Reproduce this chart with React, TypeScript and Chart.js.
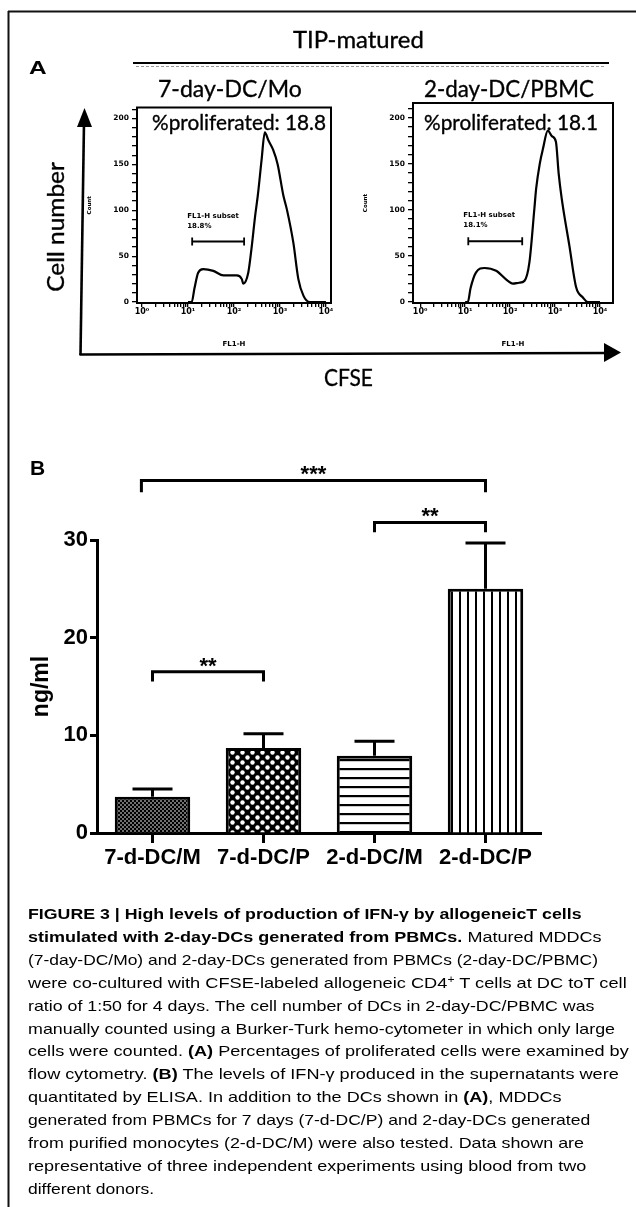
import React, { useEffect, useLayoutEffect, useRef } from "react";
import { Chart, registerables } from "chart.js";
Chart.register(...registerables);
Chart.defaults.font.family = "'Liberation Sans', Arial, sans-serif";

// ---------------- DATA ----------------
// Panel A: CFSE histograms (x = log10 FL1-H, y = count)
const hist1LogCFSE = [1.0, 1.08, 1.14, 1.22, 1.33, 1.55, 1.77, 2.06, 2.17, 2.2, 2.31, 2.38, 2.46, 2.52, 2.6, 2.67, 2.75, 2.85, 2.95, 3.07, 3.15, 3.29, 3.4, 3.51, 3.65, 4.0];
const hist1Count = [0, 0, 15, 32, 36, 34, 29, 29, 25, 20, 32, 58, 94, 117, 155, 185, 176, 166, 150, 117, 101, 65, 25, 7, 0, 0];
const hist2LogCFSE = [1.0, 1.06, 1.12, 1.24, 1.43, 1.69, 1.95, 2.06, 2.2, 2.32, 2.43, 2.54, 2.58, 2.66, 2.73, 2.84, 2.93, 3.02, 3.08, 3.15, 3.32, 3.47, 3.62, 3.73, 4.0];
const hist2Count = [0, 0, 15, 32, 37, 34, 23, 20, 21, 23, 43, 101, 123, 150, 166, 186, 180, 174, 140, 112, 61, 16, 5, 0, 0];
const histTitles = ["7-day-DC/Mo", "2-day-DC/PBMC"];
const proliferated = ["18.8", "18.1"];
const gateStart = [1.09, 1.07];
const gateEnd = [2.22, 2.27];
const gateLevel = [66, 66];
const gateLabel = ["18.8%", "18.1%"];
const histYLabels = [0, 50, 100, 150, 200];
const decadeLabels = ["10\u2070", "10\u00B9", "10\u00B2", "10\u00B3", "10\u2074"];

// Panel B: IFN-gamma ELISA
const barCategories = ["7-d-DC/M", "7-d-DC/P", "2-d-DC/M", "2-d-DC/P"];
const barMeans = [3.7, 8.7, 7.9, 25.0];
const barErrors = [0.8, 1.45, 1.5, 4.7];
const barYTicks = [0, 10, 20, 30];
const sigFrom = [-0.1, 2, 0];
const sigTo = [3, 3, 1];
const sigLevel = [36.1, 31.8, 16.5];
const sigDrop = [1.2, 1.0, 1.0];
const sigLabels = ["***", "**", "**"];

// Caption
const captionLines: { parts: [string, boolean][]; right: number }[] = [
  { parts: [["FIGURE 3 | High levels of production of IFN-\u03B3 by allogeneicT cells", true]], right: 582 },
  { parts: [["stimulated with 2-day-DCs generated from PBMCs.", true], [" Matured MDDCs", false]], right: 602 },
  { parts: [["(7-day-DC/Mo) and 2-day-DCs generated from PBMCs (2-day-DC/PBMC)", false]], right: 598 },
  { parts: [["were co-cultured with CFSE-labeled allogeneic CD4", false], ["+", false], [" T cells at DC toT cell", false]], right: 627 },
  { parts: [["ratio of 1:50 for 4 days. The cell number of DCs in 2-day-DC/PBMC was", false]], right: 594 },
  { parts: [["manually counted using a Burker-Turk hemo-cytometer in which only large", false]], right: 615 },
  { parts: [["cells were counted. ", false], ["(A)", true], [" Percentages of proliferated cells were examined by", false]], right: 629 },
  { parts: [["flow cytometry. ", false], ["(B)", true], [" The levels of IFN-\u03B3 produced in the supernatants were", false]], right: 619 },
  { parts: [["quantitated by ELISA. In addition to the DCs shown in ", false], ["(A)", true], [", MDDCs", false]], right: 562 },
  { parts: [["generated from PBMCs for 7 days (7-d-DC/P) and 2-day-DCs generated", false]], right: 590 },
  { parts: [["from purified monocytes (2-d-DC/M) were also tested. Data shown are", false]], right: 584 },
  { parts: [["representative of three independent experiments using blood from two", false]], right: 586 },
  { parts: [["different donors.", false]], right: 154 },
];

// ---------------- HELPERS ----------------
const logTicks: number[] = (() => {
  const t: number[] = [];
  for (let d = 0; d < 4; d++) for (let k = 1; k < 10; k++) t.push(d + Math.log10(k));
  t.push(4);
  return t;
})();

function Fit(props: {
  x: number; y: number; w: number; size: number; family: string; weight?: number | string;
  rot?: boolean; stroke?: number; children: React.ReactNode;
}) {
  const { x, y, w, size, family, weight = 400, rot, stroke = 0, children } = props;
  const inner = useRef<HTMLSpanElement>(null);
  useLayoutEffect(() => {
    const el = inner.current;
    if (!el) return;
    el.style.transform = "none";
    const nat = el.offsetWidth;
    if (nat > 0) el.style.transform = `scaleX(${w / nat})`;
  });
  const span = (
    <span
      ref={inner}
      style={{
        display: "inline-block", whiteSpace: "pre", transformOrigin: "0 0",
        fontFamily: family, fontSize: size, fontWeight: weight as any,
        lineHeight: `${size}px`, color: "#000",
        WebkitTextStroke: stroke ? `${stroke}px #000` : undefined,
      }}
    >
      {children}
    </span>
  );
  if (rot) {
    return (
      <div style={{
        position: "absolute", left: x - w / 2, top: y - size / 2, width: w, height: size,
        transform: "rotate(-90deg)", transformOrigin: "50% 50%", whiteSpace: "nowrap",
      }}>{span}</div>
    );
  }
  return <div style={{ position: "absolute", left: x, top: y, height: size, whiteSpace: "nowrap" }}>{span}</div>;
}

function ChartBox(props: { left: number; top: number; width: number; height: number; make: () => any }) {
  const ref = useRef<HTMLCanvasElement>(null);
  useEffect(() => {
    const chart = new Chart(ref.current!, props.make());
    return () => chart.destroy();
  }, []);
  return (
    <canvas ref={ref} width={props.width} height={props.height}
      style={{ position: "absolute", left: props.left, top: props.top, width: props.width, height: props.height }} />
  );
}

const boxPlugin = {
  id: "box",
  afterDraw(chart: any) {
    const { ctx, chartArea: a } = chart;
    ctx.save();
    ctx.strokeStyle = "#000";
    ctx.lineWidth = 2;
    ctx.strokeRect(a.left, a.top, a.right - a.left, a.bottom - a.top);
    ctx.restore();
  },
};

function gatePlugin(i: number) {
  return {
    id: "gate" + i,
    afterDatasetsDraw(chart: any) {
      const { ctx } = chart;
      const xs = chart.scales.x, ys = chart.scales.y;
      const x1 = xs.getPixelForValue(gateStart[i]);
      const x2 = xs.getPixelForValue(gateEnd[i]);
      const yy = ys.getPixelForValue(gateLevel[i]);
      ctx.save();
      ctx.strokeStyle = "#000";
      ctx.lineWidth = 1.8;
      ctx.beginPath();
      ctx.moveTo(x1, yy); ctx.lineTo(x2, yy);
      ctx.moveTo(x1, yy - 4); ctx.lineTo(x1, yy + 4);
      ctx.moveTo(x2, yy - 4); ctx.lineTo(x2, yy + 4);
      ctx.stroke();
      ctx.fillStyle = "#000";
      ctx.font = "bold 7px 'DejaVu Sans'";
      ctx.textAlign = "left";
      ctx.textBaseline = "alphabetic";
      ctx.fillText("FL1-H subset", x1 - 5, yy - 24);
      ctx.fillText(gateLabel[i], x1 - 5, yy - 14);
      ctx.restore();
    },
  };
}

function histConfig(xs: number[], ys: number[], i: number, o: {
  xmin: number; xmax: number; ymin: number; ymax: number; padTop: number; padRight: number;
}) {
  const tiny = { family: "'DejaVu Sans'", size: 7.5, weight: "bold" as const };
  return {
    type: "line",
    data: {
      datasets: [{
        data: xs.map((x, k) => ({ x, y: ys[k] })),
        borderColor: "#000", borderWidth: 2.2, pointRadius: 0, fill: false,
        cubicInterpolationMode: "monotone",
      }],
    },
    options: {
      animation: false, responsive: false, devicePixelRatio: 1,
      layout: { padding: { top: o.padTop, right: o.padRight, left: 0, bottom: 0 } },
      plugins: { legend: { display: false }, tooltip: { enabled: false } },
      scales: {
        x: {
          type: "linear", min: o.xmin, max: o.xmax,
          afterFit: (s: any) => { s.height = 57; },
          afterBuildTicks: (s: any) => { s.ticks = logTicks.map((v) => ({ value: v })); },
          ticks: {
            autoSkip: false, maxRotation: 0, color: "#000", padding: 0,
            font: { ...tiny, size: 8 },
            callback: (v: number) => {
              const r = Math.round(v);
              return Math.abs(v - r) < 1e-6 ? decadeLabels[r] : "";
            },
          },
          grid: { drawOnChartArea: false, tickLength: 4, color: "#000", lineWidth: 1.3 },
          border: { display: false },
          title: { display: true, text: "FL1-H", color: "#000", font: { ...tiny, size: 7 }, padding: { top: 0, bottom: 12 } },
        },
        y: {
          min: o.ymin, max: o.ymax,
          afterFit: (s: any) => { s.width = 57; },
          afterBuildTicks: (s: any) => {
            const t: any[] = [];
            for (let v = 0; v <= 210; v += 10) t.push({ value: v });
            s.ticks = t;
          },
          ticks: {
            autoSkip: false, color: "#000", padding: 3, font: tiny,
            callback: (v: number) => (histYLabels.includes(v) ? String(v) : ""),
          },
          grid: { drawOnChartArea: false, tickLength: 5, color: "#000", lineWidth: 1.3 },
          border: { display: false },
          title: { display: true, text: "Count", color: "#000", font: { ...tiny, size: 5.5 }, padding: { top: 6, bottom: 0 } },
        },
      },
    },
    plugins: [boxPlugin, gatePlugin(i)],
  };
}

function makePattern(kind: number): CanvasPattern | string {
  const c = document.createElement("canvas");
  if (kind === 0) { c.width = 4; c.height = 4; }
  else if (kind === 1) { c.width = 10; c.height = 10; }
  else if (kind === 2) { c.width = 9; c.height = 9; }
  else { c.width = 8; c.height = 8; }
  const g = c.getContext("2d")!;
  if (kind === 0) {
    g.fillStyle = "#000"; g.fillRect(0, 0, 4, 4);
    g.fillStyle = "#fff";
    g.beginPath(); g.arc(1, 1, 0.8, 0, Math.PI * 2); g.fill();
    g.beginPath(); g.arc(3, 3, 0.8, 0, Math.PI * 2); g.fill();
  } else if (kind === 1) {
    g.fillStyle = "#000"; g.fillRect(0, 0, 10, 10);
    g.fillStyle = "#fff";
    g.beginPath(); g.arc(2.5, 2.5, 2.2, 0, Math.PI * 2); g.fill();
    g.beginPath(); g.arc(7.5, 7.5, 2.2, 0, Math.PI * 2); g.fill();
  } else if (kind === 2) {
    g.fillStyle = "#fff"; g.fillRect(0, 0, 9, 9);
    g.fillStyle = "#000"; g.fillRect(0, 4, 9, 2.2);
  } else {
    g.fillStyle = "#fff"; g.fillRect(0, 0, 8, 8);
    g.fillStyle = "#000"; g.fillRect(3, 0, 2, 8);
  }
  const p = g.createPattern(c, "repeat");
  return p || "#888";
}

const errorBarPlugin = {
  id: "errbars",
  afterDatasetsDraw(chart: any) {
    const { ctx } = chart;
    const ys = chart.scales.y;
    const meta = chart.getDatasetMeta(0);
    ctx.save();
    ctx.strokeStyle = "#000";
    ctx.lineWidth = 3;
    meta.data.forEach((el: any, k: number) => {
      const top = ys.getPixelForValue(barMeans[k] + barErrors[k]);
      ctx.beginPath();
      ctx.moveTo(el.x, el.y);
      ctx.lineTo(el.x, top);
      ctx.moveTo(el.x - 20, top);
      ctx.lineTo(el.x + 20, top);
      ctx.stroke();
    });
    ctx.restore();
  },
};

const bracketPlugin = {
  id: "brackets",
  afterDraw(chart: any) {
    const { ctx } = chart;
    const xs = chart.scales.x, ys = chart.scales.y;
    ctx.save();
    ctx.strokeStyle = "#000";
    ctx.fillStyle = "#000";
    ctx.lineWidth = 3;
    ctx.font = "bold 22px 'Liberation Sans'";
    ctx.textAlign = "center";
    ctx.textBaseline = "alphabetic";
    for (let k = 0; k < sigLabels.length; k++) {
      const x1 = xs.getPixelForValue(sigFrom[k]);
      const x2 = xs.getPixelForValue(sigTo[k]);
      const y = ys.getPixelForValue(sigLevel[k]);
      const y2 = ys.getPixelForValue(sigLevel[k] - sigDrop[k]);
      ctx.beginPath();
      ctx.moveTo(x1, y2); ctx.lineTo(x1, y); ctx.lineTo(x2, y); ctx.lineTo(x2, y2);
      ctx.stroke();
      ctx.fillText(sigLabels[k], (x1 + x2) / 2, y + 1);
    }
    ctx.restore();
  },
};

function barConfig() {
  const bold22 = { size: 22, weight: "bold" as const };
  return {
    type: "bar",
    data: {
      labels: barCategories,
      datasets: [{
        data: barMeans,
        backgroundColor: [0, 1, 2, 3].map(makePattern),
        borderColor: "#000", borderWidth: 3,
        barPercentage: 0.68, categoryPercentage: 1,
      }],
    },
    options: {
      animation: false, responsive: false, devicePixelRatio: 1,
      layout: { padding: { top: 100, right: 59, left: 0, bottom: 0 } },
      plugins: { legend: { display: false }, tooltip: { enabled: false } },
      scales: {
        x: {
          z: 1,
          afterFit: (s: any) => { s.height = 47; },
          grid: { offset: false, drawOnChartArea: false, tickLength: 10, tickWidth: 3, tickColor: "#000" },
          border: { display: true, width: 3, color: "#000" },
          ticks: { font: bold22, color: "#000", padding: 2, maxRotation: 0, autoSkip: false },
        },
        y: {
          min: 0, max: 30,
          afterFit: (s: any) => { s.width = 97; },
          afterBuildTicks: (s: any) => { s.ticks = barYTicks.map((v) => ({ value: v })); },
          grid: { drawOnChartArea: false, tickLength: 7, tickWidth: 3, tickColor: "#000" },
          border: { display: true, width: 3, color: "#000" },
          ticks: { font: bold22, color: "#000", padding: 2 },
          title: { display: true, text: "ng/ml", color: "#000", font: { size: 23, weight: "bold" }, padding: { top: 28, bottom: 0 } },
        },
      },
    },
    plugins: [errorBarPlugin, bracketPlugin],
  };
}

const LATO = "Lato, 'Open Sans', sans-serif";
const LIB = "'Liberation Sans', Arial, sans-serif";

export default function App() {
  return (
    <div style={{ position: "absolute", left: 0, top: 0, width: 636, height: 1207, background: "#fff", overflow: "hidden" }}>
      <ChartBox left={80} top={100} width={260} height={260}
        make={() => histConfig(hist1LogCFSE, hist1Count, 0, { xmin: -0.11, xmax: 4.11, ymin: -1, ymax: 212, padTop: 5, padRight: 9 })} />
      <ChartBox left={356} top={95} width={270} height={265}
        make={() => histConfig(hist2LogCFSE, hist2Count, 1, { xmin: -0.16, xmax: 4.29, ymin: -1, ymax: 216, padTop: 8, padRight: 13 })} />
      <ChartBox left={0} top={440} width={600} height={440} make={barConfig} />

      <svg width={636} height={1207} style={{ position: "absolute", left: 0, top: 0, pointerEvents: "none" }}>
        <line x1={8} y1={11.5} x2={636} y2={11.5} stroke="#111" strokeWidth={2} />
        <line x1={8.5} y1={11} x2={8.5} y2={1207} stroke="#111" strokeWidth={2} />
        <line x1={133} y1={63} x2={609} y2={63} stroke="#000" strokeWidth={2.2} />
        <line x1={136} y1={66.5} x2={605} y2={66.5} stroke="#999" strokeWidth={1} strokeDasharray="3 2" />
        <line x1={80.5} y1={355} x2={84} y2={122} stroke="#000" strokeWidth={2.6} />
        <polygon points="84.5,108 77,127 92,127" fill="#000" />
        <line x1={79.5} y1={354.5} x2={607} y2={353} stroke="#000" strokeWidth={2.6} />
        <polygon points="621,352.5 604,343 604,362" fill="#000" />
      </svg>

      <Fit x={29} y={57.5} w={18} size={19} family={LIB} weight="bold">A</Fit>
      <Fit x={293} y={28} w={131} size={23.5} family={LATO} stroke={0.35}>TIP-matured</Fit>
      <Fit x={158} y={77} w={144} size={23.5} family={LATO} stroke={0.35}>{histTitles[0]}</Fit>
      <Fit x={424} y={77} w={170} size={23.5} family={LATO} stroke={0.35}>{histTitles[1]}</Fit>
      <Fit x={152} y={111.4} w={174} size={21} family={LATO} stroke={0.35}>{"%proliferated: " + proliferated[0]}</Fit>
      <Fit x={424} y={111.4} w={174} size={21} family={LATO} stroke={0.35}>{"%proliferated: " + proliferated[1]}</Fit>
      <Fit x={55.8} y={227} w={130} size={23.5} family={LATO} stroke={0.35} rot>Cell number</Fit>
      <Fit x={324} y={366} w={49} size={23.5} family={LATO} stroke={0.35}>CFSE</Fit>

      <Fit x={30} y={457.3} w={15} size={21} family={LIB} weight="bold">B</Fit>

      {captionLines.map((ln, i) => (
        <Fit key={i} x={28} y={905 + 22.9 * i} w={ln.right - 28} size={15} family={LIB}>
          {ln.parts.map(([t, b], j) =>
            t === "+" ? (
              <span key={j} style={{ fontSize: 10, position: "relative", top: -5 }}>+</span>
            ) : (
              <span key={j} style={{ fontWeight: b ? 700 : 400 }}>{t}</span>
            )
          )}
        </Fit>
      ))}
    </div>
  );
}
